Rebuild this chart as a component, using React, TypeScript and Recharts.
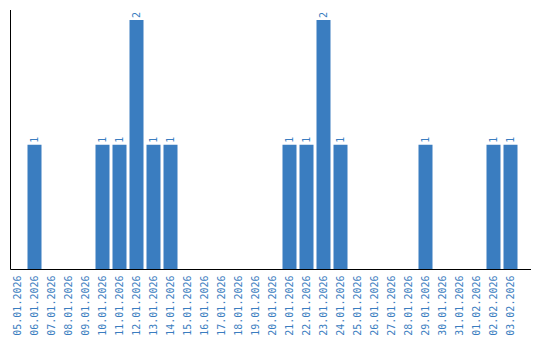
import React from "react";
import { BarChart, Bar, XAxis, YAxis, LabelList } from "recharts";

const dates = [
  "05.01.2026", "06.01.2026", "07.01.2026", "08.01.2026", "09.01.2026",
  "10.01.2026", "11.01.2026", "12.01.2026", "13.01.2026", "14.01.2026",
  "15.01.2026", "16.01.2026", "17.01.2026", "18.01.2026", "19.01.2026",
  "20.01.2026", "21.01.2026", "22.01.2026", "23.01.2026", "24.01.2026",
  "25.01.2026", "26.01.2026", "27.01.2026", "28.01.2026", "29.01.2026",
  "30.01.2026", "31.01.2026", "01.02.2026", "02.02.2026", "03.02.2026",
];
const counts = [0, 1, 0, 0, 0, 1, 1, 2, 1, 1, 0, 0, 0, 0, 0, 0, 1, 1, 2, 1, 0, 0, 0, 0, 1, 0, 0, 0, 1, 1];

const data = dates.map((date, i) => ({ date, count: counts[i] }));

const BLUE = "#3a7dc0";
const FONT = "'DejaVu Sans Mono', monospace";

const DateTick = (props: any) => {
  const { x, y, payload } = props;
  const ty = y - 2;
  return (
    <text
      x={x}
      y={ty}
      transform={`rotate(-90, ${x}, ${ty})`}
      textAnchor="end"
      dominantBaseline="central"
      fill={BLUE}
      fontSize={10}
      fontFamily={FONT}
    >
      {payload.value}
    </text>
  );
};

const CountLabel = (props: any) => {
  const { x, y, width, value } = props;
  if (!value) return null;
  const cx = x + width / 2;
  const cy = y - 2;
  return (
    <text
      x={cx}
      y={cy}
      transform={`rotate(-90, ${cx}, ${cy})`}
      textAnchor="start"
      dominantBaseline="central"
      fill={BLUE}
      fontSize={10}
      fontFamily={FONT}
    >
      {value}
    </text>
  );
};

export default function App() {
  return (
    <div style={{ position: "absolute", left: 0, top: 0, background: "#fff" }}>
      <BarChart
        width={540}
        height={340}
        data={data}
        margin={{ top: 10, right: 9, bottom: 0, left: 9.5 }}
      >
        <XAxis
          dataKey="date"
          interval={0}
          height={70.5}
          tickLine={false}
          axisLine={{ stroke: "#000" }}
          padding={{ left: -2, right: 12.5 }}
          tick={<DateTick />}
        />
        <YAxis
          width={1}
          domain={[0, 2]}
          tick={false}
          tickLine={false}
          axisLine={{ stroke: "#000" }}
          padding={{ top: 10 }}
        />
        <Bar dataKey="count" fill={BLUE} barSize={14} isAnimationActive={false}>
          <LabelList dataKey="count" content={<CountLabel />} />
        </Bar>
      </BarChart>
    </div>
  );
}
